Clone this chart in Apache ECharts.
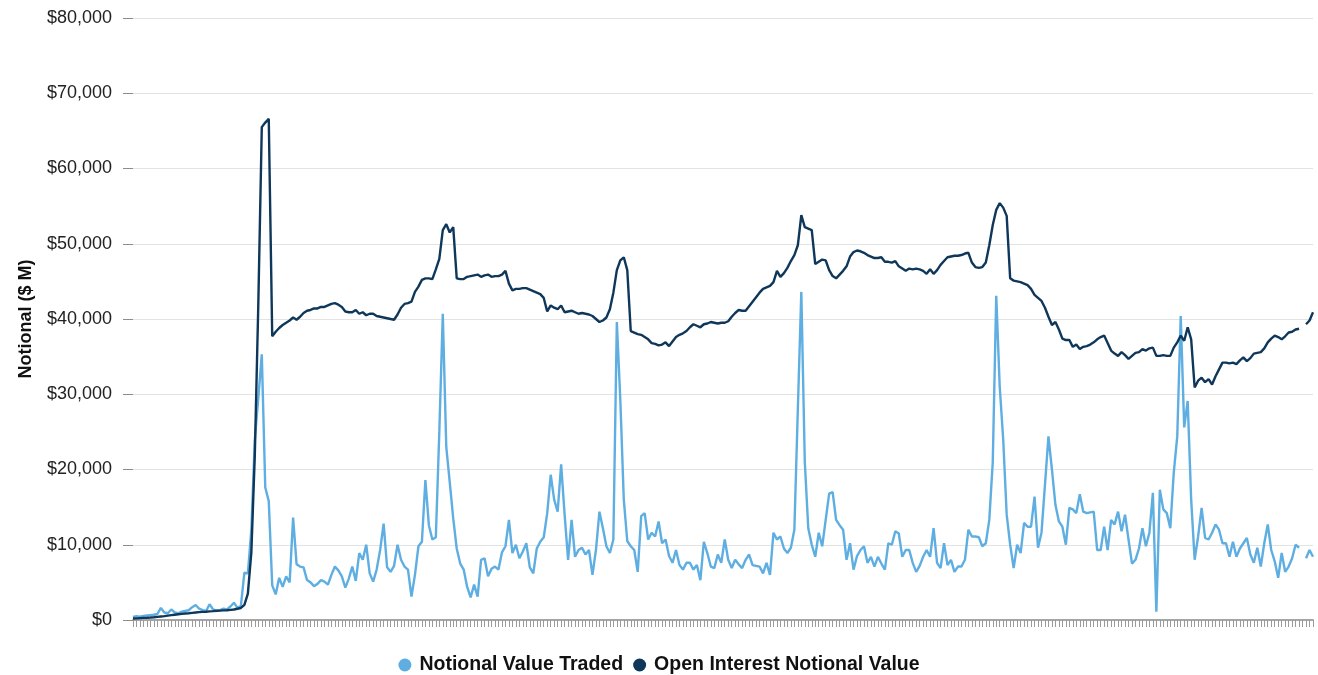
<!DOCTYPE html>
<html>
<head>
<meta charset="utf-8">
<script src="https://cdn.jsdelivr.net/npm/echarts@6/dist/echarts.min.js"></script>
<style>
  html, body { margin: 0; padding: 0; background: #fff; }
  #chart { width: 1318px; height: 675px; }
</style>
</head>
<body>
<div id="chart"></div>
<script>
// Notional value traded ($ M), one value per period
const notionalTraded = [
  400, 500, 450, 550, 600, 650, 700, 800, 1600, 1000,
  900, 1400, 1000, 900, 1100, 1200, 1300, 1700, 2000, 1500,
  1300, 1200, 2100, 1400, 1200, 1300, 1500, 1400, 1800, 2300,
  1600, 1900, 6300, 6200, 12000, 24000, 29500, 35300, 17600, 15800,
  4600, 3400, 5600, 4400, 5800, 5000, 13600, 7400, 7100, 7000,
  5300, 5000, 4500, 4800, 5300, 5100, 4700, 6000, 7100, 6600,
  5800, 4300, 5500, 7100, 5200, 8900, 8000, 10000, 6200, 5100,
  6700, 9300, 12800, 7000, 6400, 7200, 10000, 8000, 7100, 6700,
  3100, 6000, 9800, 10400, 18600, 12600, 10700, 11000, 25000, 40700,
  23000, 18300, 13500, 9500, 7500, 6700, 4400, 3000, 4700, 3100,
  8000, 8200, 5800, 6800, 7100, 6700, 9000, 9800, 13300, 8900,
  10000, 8200, 9100, 10200, 7000, 6200, 9500, 10400, 11000, 14200,
  19300, 16000, 14400, 20700, 14000, 8000, 13300, 8400, 9300, 9600,
  8700, 9300, 6000, 9300, 14400, 12200, 9800, 8900, 10700, 39600,
  29300, 16000, 10500, 9800, 9300, 6400, 13800, 14200, 10700, 11600,
  11100, 13100, 10200, 10700, 8500, 7600, 9300, 7300, 6700, 7600,
  7600, 6700, 7300, 5300, 10400, 8900, 7100, 6900, 8700, 7600,
  10700, 8000, 6900, 8000, 7400, 6900, 8000, 8700, 7300, 7200,
  7100, 6200, 7600, 6000, 11600, 10700, 11100, 9500, 8900, 9600,
  12000, 28000, 43600, 21000, 12200, 10000, 8400, 11600, 9800, 13300,
  16800, 17000, 13300, 12600, 12000, 8000, 10200, 6700, 8500, 9300,
  9800, 7600, 8400, 7100, 8400, 7500, 6700, 10200, 10000, 11800,
  11500, 8400, 9300, 9300, 7600, 6400, 7200, 8400, 9300, 8400,
  12200, 7600, 6900, 10200, 7300, 8000, 6400, 7100, 7100, 8000,
  12000, 11100, 11100, 11000, 9800, 10200, 13300, 21000, 43100, 31000,
  24000, 14000, 10000, 6900, 10000, 8900, 12900, 12400, 12400, 16400,
  9600, 11600, 18000, 24400, 20000, 15300, 13100, 12400, 10000, 14900,
  14700, 14200, 16700, 14400, 14200, 14300, 14400, 9300, 9300, 12400,
  9300, 13300, 12700, 14400, 11800, 14000, 10700, 7500, 8000, 9500,
  12200, 9800, 11600, 16900, 1100, 17300, 14700, 14200, 12200, 19600,
  24400, 40400, 25600, 29100, 16000, 8000, 11100, 14900, 10900, 10700,
  11600, 12700, 12000, 10200, 10200, 8400, 10400, 8400, 9500, 10200,
  10900, 8700, 7600, 9600, 7100, 10200, 12700, 9300, 7800, 5600,
  8900, 6400, 7100, 8200, 10000, 9600, null, 8200, 9300, 8400
];

// Open interest notional value ($ M)
const openInterest = [
  200, 220, 250, 280, 300, 330, 370, 420, 470, 520,
  580, 640, 700, 760, 820, 870, 900, 950, 1000, 1050,
  1080, 1100, 1150, 1180, 1220, 1250, 1280, 1300, 1350, 1400,
  1500, 1600, 2000, 3500, 9000, 22000, 42000, 65500, 66100, 66600,
  37700, 38300, 38800, 39200, 39500, 39800, 40200, 39900, 40300, 40800,
  41100, 41200, 41400, 41400, 41600, 41600, 41800, 42000, 42100, 41900,
  41600, 41000, 40900, 40900, 41200, 40700, 40900, 40500, 40700, 40700,
  40400, 40300, 40200, 40100, 40000, 39900, 40600, 41500, 42000, 42100,
  42300, 43600, 44300, 45200, 45400, 45400, 45300, 46600, 48000, 51800,
  52600, 51500, 52200, 45400, 45300, 45300, 45600, 45700, 45800, 45900,
  45600, 45800, 45900, 45600, 45700, 45700, 45900, 46400, 44700, 43800,
  44000, 44000, 44100, 44100, 43900, 43700, 43500, 43300, 42800, 41000,
  41800, 41500, 41300, 41800, 40900, 41000, 41100, 40900, 40700, 40800,
  40700, 40600, 40400, 40000, 39600, 39800, 40200, 41300, 43500, 46500,
  47800, 48200, 46500, 38400, 38200, 38000, 37900, 37600, 37300, 36800,
  36700, 36500, 36600, 36900, 36400, 37000, 37600, 37900, 38100, 38400,
  38900, 39300, 39100, 38900, 39300, 39400, 39600, 39500, 39400, 39500,
  39500, 39700, 40300, 40800, 41200, 41100, 41100, 41700, 42300, 42900,
  43500, 44000, 44200, 44400, 44900, 46400, 45600, 46100, 46800, 47700,
  48500, 49800, 53800, 52200, 52000, 51800, 47300, 47600, 47900, 47800,
  46500, 45700, 45400, 45900, 46400, 47000, 48300, 48900, 49100, 49000,
  48800, 48500, 48300, 48100, 48100, 48200, 47600, 47600, 47500, 47700,
  47000, 46700, 46400, 46700, 46600, 46700, 46600, 46400, 46000, 46600,
  46000, 46500, 47200, 47700, 48200, 48300, 48400, 48400, 48500, 48700,
  48800, 47500, 46900, 46800, 46900, 47500, 49800, 52500, 54500, 55400,
  54800, 53700, 45400, 45100, 45000, 44900, 44700, 44500, 44000, 43200,
  42800, 42400, 41500, 40300, 39200, 39600, 38600, 37400, 37200, 37200,
  36300, 36600, 36000, 36300, 36400, 36600, 36900, 37300, 37600, 37800,
  36800, 35800, 35400, 35100, 35600, 35200, 34700, 35100, 35500, 35600,
  36000, 35800, 36100, 36200, 35100, 35100, 35200, 35100, 35100, 36200,
  36900, 37800, 37100, 38900, 37300, 30900, 31800, 32200, 31600, 32000,
  31300, 32400, 33300, 34200, 34200, 34100, 34200, 34000, 34500, 34900,
  34400, 34800, 35400, 35500, 35600, 36100, 36900, 37400, 37800, 37600,
  37300, 37700, 38200, 38300, 38600, 38700, null, 39300, 39800, 40900
];

// the period labels are not printed on the original, only their ticks
const periods = notionalTraded.map((_, i) => "P" + (i + 1));

const seriesNames = ["Notional Value Traded", "Open Interest Notional Value"];
const seriesColors = ["#5eaee2", "#0e375a"];

const chart = echarts.init(document.getElementById("chart"));

const font = "'Liberation Sans', Arial, sans-serif";

chart.setOption({
  animation: false,
  textStyle: { fontFamily: font },
  grid: { left: 133, right: 5, top: 18, bottom: 55, containLabel: false },
  legend: {
    top: 650,
    left: "center",
    icon: "circle",
    itemWidth: 19,
    itemHeight: 13,
    itemGap: 10,
    textStyle: { fontSize: 19.5, fontWeight: "bold", color: "#111", fontFamily: font },
    data: seriesNames
  },
  xAxis: {
    type: "category",
    data: periods,
    boundaryGap: false,
    axisLine: { show: true, lineStyle: { color: "#a6a6a6", width: 2 } },
    axisTick: { show: true, interval: 0, length: 7, lineStyle: { color: "#9a9a9a" } },
    axisLabel: { show: false },
    splitLine: { show: false }
  },
  yAxis: {
    type: "value",
    min: 0,
    max: 80000,
    interval: 10000,
    name: "Notional ($ M)",
    nameLocation: "middle",
    nameGap: 98,
    nameRotate: 90,
    nameTextStyle: { fontSize: 18, fontWeight: "bold", color: "#111", fontFamily: font },
    axisLine: { show: false },
    axisTick: { show: true, length: 10, lineStyle: { color: "#8c8c8c" } },
    axisLabel: {
      margin: 21,
      fontSize: 18,
      color: "#222",
      formatter: v => "$" + v.toLocaleString("en-US")
    },
    splitLine: { show: true, lineStyle: { color: "#e3e3e3", width: 1 } }
  },
  series: [
    {
      name: seriesNames[0],
      type: "line",
      data: notionalTraded,
      showSymbol: false,
      symbol: "circle",
      color: seriesColors[0],
      lineStyle: { width: 2.4, color: seriesColors[0] },
      connectNulls: false
    },
    {
      name: seriesNames[1],
      type: "line",
      data: openInterest,
      showSymbol: false,
      symbol: "circle",
      color: seriesColors[1],
      lineStyle: { width: 2.4, color: seriesColors[1] },
      connectNulls: false
    }
  ]
});

window.addEventListener("resize", () => chart.resize());
</script>
</body>
</html>
